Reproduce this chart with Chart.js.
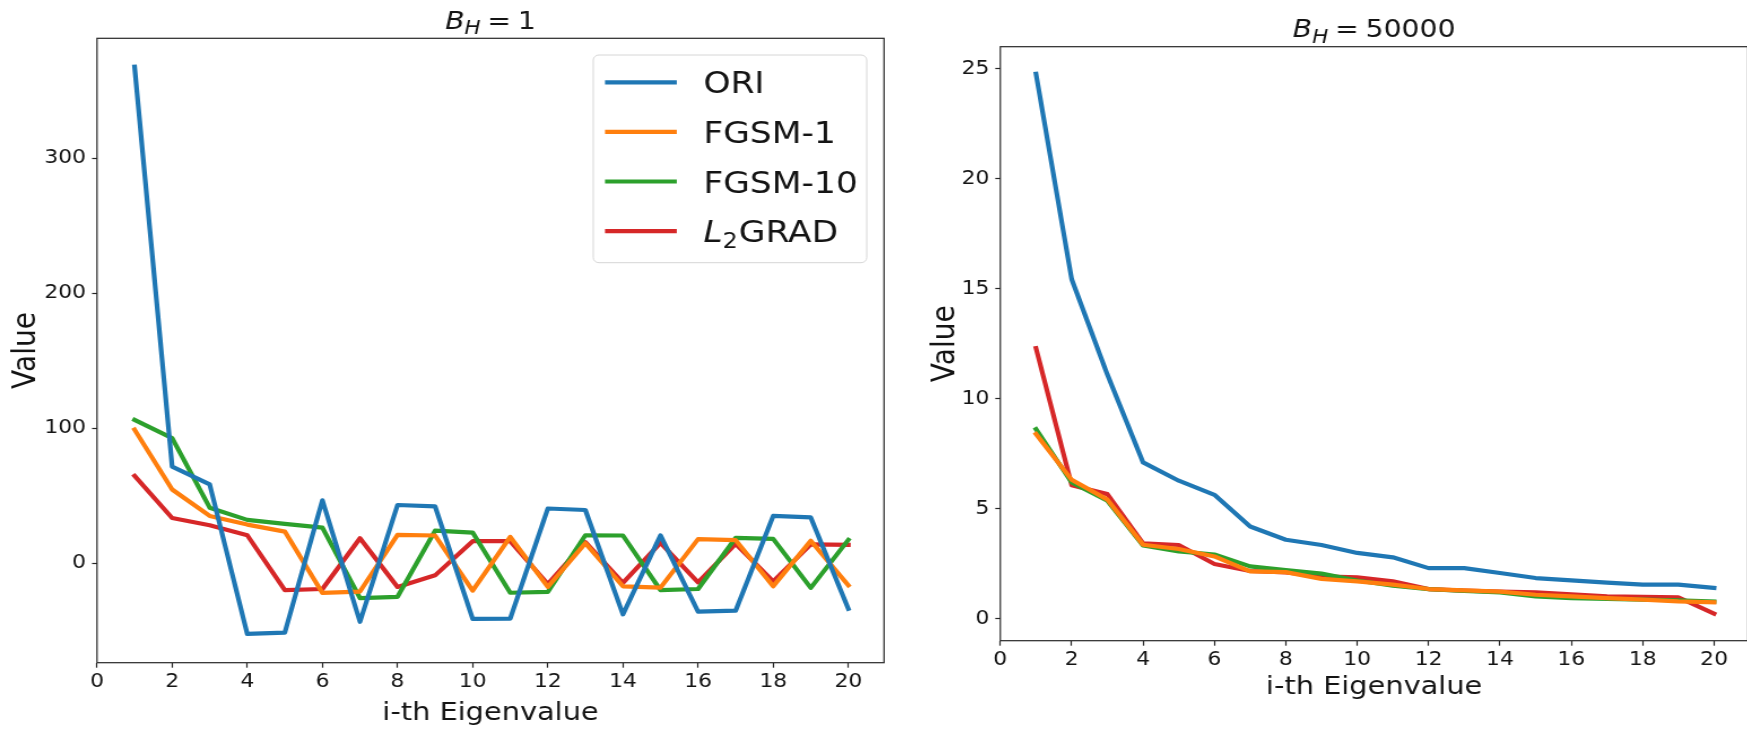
<!DOCTYPE html>
<html>
<head>
<meta charset="utf-8">
<script src="https://cdn.jsdelivr.net/npm/chart.js@4.4.1/dist/chart.umd.min.js"></script>
<style>
  html, body { margin: 0; padding: 0; background: #fff; width: 1747px; height: 729px; overflow: hidden; }
  .panel { position: absolute; top: 0; height: 729px; transform-origin: 0 0; transform: scaleX(1.13); }
  .panel canvas { display: block; }
</style>
</head>
<body>
<div class="panel" style="left:0px;width:800px"><canvas id="smallBatch" width="800" height="729"></canvas></div>
<div class="panel" style="left:900px;width:762px"><canvas id="largeBatch" width="762" height="729"></canvas></div>
<script>
// Eigenvalue index (x axis) and tick values
const eigenIndex = [1, 2, 3, 4, 5, 6, 7, 8, 9, 10, 11, 12, 13, 14, 15, 16, 17, 18, 19, 20];
const xTicks = [0, 2, 4, 6, 8, 10, 12, 14, 16, 18, 20];
const yTicksSmall = [0, 100, 200, 300];
const yTicksLarge = [0, 5, 10, 15, 20, 25];

const seriesNames = ['ORI', 'FGSM-1', 'FGSM-10', 'L2GRAD'];
const seriesColors = ['#1f77b4', '#ff7f0e', '#2ca02c', '#d62728'];

// Top-20 Hessian eigenvalues, B_H = 1
const oriSmall    = [367.7, 71.5, 58.3, -52.5, -51.5, 46.5, -43.5, 43.0, 42.0, -41.3, -41.2, 40.4, 39.3, -38.0, 20.5, -36.0, -35.3, 34.9, 33.8, -33.8];
const fgsm1Small  = [98.8, 54.5, 34.9, 28.5, 23.3, -22.1, -21.1, 20.9, 20.4, -20.4, 19.4, -17.7, 14.7, -17.2, -18.2, 17.7, 17.0, -17.2, 16.5, -16.5];
const fgsm10Small = [106.0, 92.6, 41.0, 32.0, 29.0, 26.3, -26.0, -25.0, 24.0, 22.6, -22.0, -21.4, 20.6, 20.4, -20.1, -19.2, 18.7, 17.9, -18.4, 17.2];
const l2gradSmall = [64.6, 33.4, 28.0, 20.6, -20.1, -19.2, 18.4, -17.7, -9.1, 16.2, 16.2, -15.5, 15.5, -14.7, 15.0, -14.3, 14.3, -13.5, 13.8, 13.5];

// Top-20 Hessian eigenvalues, B_H = 50000
const oriLarge    = [24.76, 15.43, 11.1, 7.11, 6.28, 5.64, 4.2, 3.6, 3.36, 3.0, 2.8, 2.31, 2.31, 2.09, 1.86, 1.75, 1.65, 1.56, 1.56, 1.41];
const fgsm1Large  = [8.4, 6.32, 5.42, 3.37, 3.18, 2.84, 2.16, 2.13, 1.82, 1.71, 1.56, 1.36, 1.3, 1.24, 1.1, 1.03, 0.95, 0.88, 0.8, 0.76];
const fgsm10Large = [8.62, 6.2, 5.37, 3.34, 3.07, 2.93, 2.39, 2.22, 2.06, 1.75, 1.51, 1.36, 1.27, 1.21, 1.03, 0.95, 0.91, 0.88, 0.85, 0.79];
const l2gradLarge = [12.3, 6.07, 5.67, 3.43, 3.36, 2.5, 2.18, 2.12, 1.94, 1.89, 1.71, 1.36, 1.29, 1.24, 1.21, 1.12, 1.03, 1.0, 0.98, 0.24];

const FONT = '"DejaVu Sans", "Liberation Sans", sans-serif';
const INK = '#141414';

function toPoints(values) {
  return eigenIndex.map((x, i) => ({ x: x, y: values[i] }));
}

function makeDatasets(groups) {
  return groups.map((values, i) => ({
    label: seriesNames[i],
    data: toPoints(values),
    borderColor: seriesColors[i],
    backgroundColor: seriesColors[i],
    borderWidth: 4.2,
    pointRadius: 0,
    pointHoverRadius: 0,
    tension: 0,
    fill: false,
    borderJoinStyle: 'round',
    borderCapStyle: 'square'
  }));
}

// Draws text pieces left to right; each piece may be italic, smaller and lowered (subscript)
function drawPieces(ctx, pieces, x, y) {
  let cx = x;
  for (const p of pieces) {
    ctx.font = (p.italic ? 'italic ' : '') + p.size + 'px ' + FONT;
    ctx.fillText(p.text, cx, y + (p.dy || 0));
    cx += ctx.measureText(p.text).width + (p.gap || 0);
  }
  return cx;
}
function measurePieces(ctx, pieces) {
  let w = 0;
  for (const p of pieces) {
    ctx.font = (p.italic ? 'italic ' : '') + p.size + 'px ' + FONT;
    w += ctx.measureText(p.text).width + (p.gap || 0);
  }
  return w;
}

function titlePieces(value) {
  return [
    { text: 'B', italic: true, size: 25 },
    { text: 'H', italic: true, size: 19, dy: 5.5, gap: 6 },
    { text: '=', size: 25, gap: 6 },
    { text: value, size: 25 }
  ];
}

const framePlugin = {
  id: 'frameAndTitle',
  afterDatasetsDraw(chart, args, opts) {
    const { ctx, chartArea: a } = chart;
    ctx.save();
    // axes box
    ctx.strokeStyle = '#262626';
    ctx.lineWidth = 1.2;
    ctx.strokeRect(a.left, a.top, a.right - a.left, a.bottom - a.top);
    // title
    ctx.fillStyle = INK;
    ctx.textBaseline = 'alphabetic';
    ctx.textAlign = 'left';
    const pieces = titlePieces(opts.value);
    const w = measurePieces(ctx, pieces);
    drawPieces(ctx, pieces, (a.left + a.right) / 2 - w / 2, opts.baseline);

    // legend
    if (opts.legend) {
      const L = opts.legend;
      ctx.beginPath();
      const r = 5, x0 = L.left, y0 = L.top, x1 = L.right, y1 = L.bottom;
      ctx.moveTo(x0 + r, y0);
      ctx.arcTo(x1, y0, x1, y1, r);
      ctx.arcTo(x1, y1, x0, y1, r);
      ctx.arcTo(x0, y1, x0, y0, r);
      ctx.arcTo(x0, y0, x1, y0, r);
      ctx.closePath();
      ctx.fillStyle = 'rgba(255,255,255,0.8)';
      ctx.fill();
      ctx.strokeStyle = '#d6d6d6';
      ctx.lineWidth = 1;
      ctx.stroke();
      chart.data.datasets.forEach((ds, i) => {
        const y = L.firstRow + i * L.rowStep;
        ctx.strokeStyle = ds.borderColor;
        ctx.lineWidth = 4.2;
        ctx.lineCap = 'butt';
        ctx.beginPath();
        ctx.moveTo(L.handleLeft, y);
        ctx.lineTo(L.handleRight, y);
        ctx.stroke();
        ctx.fillStyle = INK;
        let pieces;
        if (ds.label === 'L2GRAD') {
          pieces = [
            { text: 'L', italic: true, size: 30.5 },
            { text: '2', size: 21, dy: 6, gap: 1 },
            { text: 'GRAD', size: 30.5 }
          ];
        } else {
          pieces = [{ text: ds.label, size: 30.5 }];
        }
        drawPieces(ctx, pieces, L.textLeft, y + 11);
      });
    }
    ctx.restore();
  }
};

function makeChart(id, groups, cfg) {
  return new Chart(document.getElementById(id), {
    type: 'line',
    data: { datasets: makeDatasets(groups) },
    plugins: [framePlugin],
    options: {
      responsive: false,
      animation: false,
      events: [],
      layout: { padding: { left: 0, top: cfg.top, right: cfg.padRight, bottom: 0 } },
      plugins: {
        legend: { display: false },
        tooltip: { enabled: false },
        title: { display: false },
        frameAndTitle: { value: cfg.title, baseline: cfg.titleBaseline, legend: cfg.legend }
      },
      scales: {
        x: {
          type: 'linear',
          min: 0,
          max: 20.95,
          afterBuildTicks: s => { s.ticks = xTicks.map(v => ({ value: v })); },
          afterFit: s => { s.height = cfg.xHeight; },
          grid: { display: true, drawOnChartArea: false, drawTicks: true, tickLength: 5, tickWidth: 1.2, tickColor: '#262626' },
          border: { display: false },
          ticks: { color: INK, font: { family: FONT, size: 19.4 }, padding: 2.7, maxRotation: 0, autoSkip: false },
          title: { display: true, text: 'i-th Eigenvalue', color: INK, font: { family: FONT, size: 25.5 }, padding: { top: 0, bottom: cfg.xTitlePad } }
        },
        y: {
          type: 'linear',
          min: cfg.yMin,
          max: cfg.yMax,
          afterBuildTicks: s => { s.ticks = cfg.yTicks.map(v => ({ value: v })); },
          afterFit: s => { s.width = cfg.yWidth; },
          grid: { display: true, drawOnChartArea: false, drawTicks: true, tickLength: 4.4, tickWidth: 1.2, tickColor: '#262626' },
          border: { display: false },
          ticks: { color: INK, font: { family: FONT, size: 19.4 }, padding: 5.3, autoSkip: false },
          title: { display: true, text: 'Value', color: INK, font: { family: FONT, size: 28 }, padding: { top: cfg.yTitlePad, bottom: 0 } }
        }
      }
    }
  });
}

makeChart('smallBatch', [oriSmall, fgsm1Small, fgsm10Small, l2gradSmall], {
  title: '1',
  titleBaseline: 28.9,
  top: 38.3,
  padRight: 17.7,
  xHeight: 66.3,
  yWidth: 85.84,
  yMin: -73.8,
  yMax: 388.7,
  yTicks: yTicksSmall,
  xTitlePad: 0,
  yTitlePad: 7,
  legend: {
    left: 525.0, right: 767.0, top: 55, bottom: 262.7,
    handleLeft: 535.4, handleRight: 598.9, textLeft: 622.4,
    firstRow: 82.3, rowStep: 49.6
  }
});

makeChart('largeBatch', [oriLarge, fgsm1Large, fgsm10Large, l2gradLarge], {
  title: '50000',
  titleBaseline: 37.3,
  top: 46.7,
  padRight: 11.6,
  xHeight: 88.3,
  yWidth: 88.76,
  yMin: -0.986,
  yMax: 25.99,
  yTicks: yTicksLarge,
  xTitlePad: 26,
  yTitlePad: 23.5,
  legend: null
});
</script>
</body>
</html>
